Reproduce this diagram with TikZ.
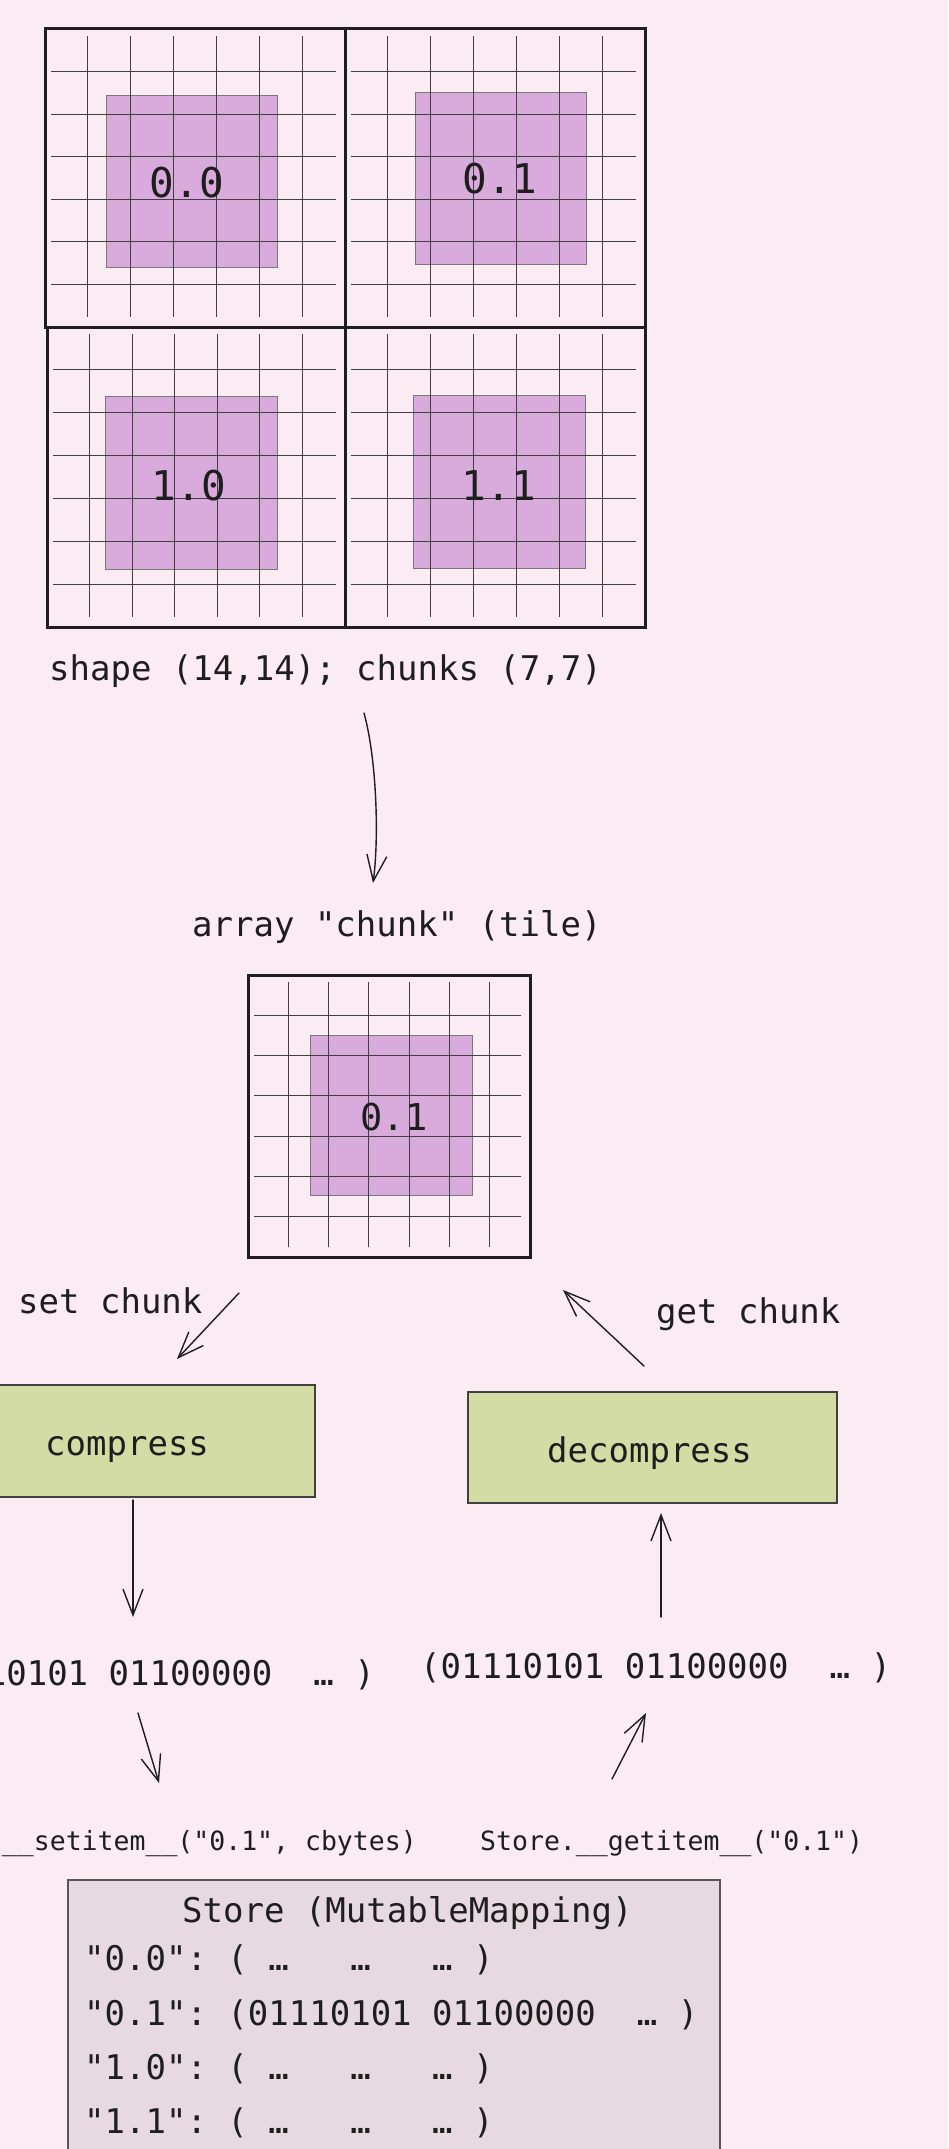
\documentclass[tikz,border=0pt]{standalone}
\usepackage{fontspec}
\newfontfamily\codefont{DejaVu Sans Mono}
\usetikzlibrary{arrows.meta}
\definecolor{bg}{HTML}{FBEBF2}
\definecolor{ink}{HTML}{1E1E1E}
\definecolor{violetfill}{HTML}{D9ABDD}
\definecolor{greenfill}{HTML}{D2DCA4}
\definecolor{storefill}{HTML}{E7D9E2}
\tikzset{
  frame/.style={draw=ink, line width=3pt, inner sep=0pt},
  gridline/.style={draw=ink!85, line width=1.2pt},
  chunkfill/.style={fill=violetfill, draw=ink!60, line width=1pt, inner sep=0pt},
  procbox/.style={fill=greenfill, draw=ink!85, line width=1.6pt, inner sep=0pt},
  storebox/.style={fill=storefill, draw=ink!75, line width=1.5pt, inner sep=0pt},
  code/.style={text=ink, inner sep=0pt, font=\codefont\fontsize{34}{40}\selectfont},
  codesmall/.style={text=ink, inner sep=0pt, font=\codefont\fontsize{26.5}{32}\selectfont},
  tilelabel/.style={text=ink, inner sep=0pt, font=\codefont\fontsize{41}{48}\selectfont},
  sketcharrow/.style={draw=ink, line width=1.4pt, line cap=round,
    -{Straight Barb[length=26pt,width=20pt,line width=1.4pt]}},
}
\newcommand{\chunkgrid}[4]{%
  \foreach \k in {1,...,6} {
    \draw[gridline] ({#1+\k*#3/7}, {#2+7}) -- ({#1+\k*#3/7}, {#2+#4-10});
    \draw[gridline] ({#1+6}, {#2+\k*#4/7}) -- ({#1+#3-9}, {#2+\k*#4/7});
  }%
}
\begin{document}
\begin{tikzpicture}[x=1pt,y=-1pt]
\useasboundingbox (0,0) rectangle (948,2149);
\clip (0,0) rectangle (948,2149);
\fill[bg] (0,0) rectangle (948,2149);

% ---- full array: four chunks ----
\node[chunkfill, minimum width=171pt, minimum height=172pt] (p00) at (191.5,181) {};
\node[chunkfill, minimum width=171pt, minimum height=172pt] (p01) at (500.5,178) {};
\node[chunkfill, minimum width=172pt, minimum height=173pt] (p10) at (191,482.5) {};
\node[chunkfill, minimum width=172pt, minimum height=173pt] (p11) at (499,481.5) {};
\chunkgrid{45}{29}{300}{298}
\chunkgrid{345}{29}{300}{298}
\chunkgrid{47}{327}{298}{300}
\chunkgrid{345}{327}{300}{300}
\node[frame, minimum width=300pt, minimum height=298pt] (q00) at (195,178) {};
\node[frame, minimum width=300pt, minimum height=298pt] (q01) at (495,178) {};
\node[frame, minimum width=298pt, minimum height=300pt] (q10) at (196,477) {};
\node[frame, minimum width=300pt, minimum height=300pt] (q11) at (495,477) {};
\node[tilelabel] (l00) at (187,183) {0.0};
\node[tilelabel] (l01) at (500,179) {0.1};
\node[tilelabel] (l10) at (189,486) {1.0};
\node[tilelabel] (l11) at (499,486) {1.1};

\node[code, anchor=base west] (shape) at (49,680) {shape (14,14); chunks (7,7)};

% ---- single chunk ----
\node[code, anchor=base west] (arraylbl) at (192,936) {array "chunk" (tile)};
\node[chunkfill, minimum width=162pt, minimum height=160pt] (pt) at (391,1115) {};
\chunkgrid{248}{975}{282}{282}
\node[frame, minimum width=282pt, minimum height=282pt] (tile) at (389,1116) {};
\node[text=ink, inner sep=0pt, font=\codefont\fontsize{37}{44}\selectfont] (lt) at (394,1117) {0.1};

\node[code, anchor=base west] (setlbl) at (18,1313) {set chunk};
\node[code, anchor=base west] (getlbl) at (656,1323) {get chunk};

% ---- codec boxes ----
\node[procbox, minimum width=325pt, minimum height=112pt] (compress) at (152.5,1441) {};
\node[code, anchor=base west] (compresslbl) at (45,1455) {compress};
\node[procbox, minimum width=369pt, minimum height=111pt] (decompress) at (652.5,1447.5) {};
\node[code, anchor=base west] (decompresslbl) at (547,1462) {decompress};

% ---- bytes ----
\node[code, anchor=base east] (bytesL) at (375,1685) {\frenchspacing(01110101 01100000~~…~)};
\node[code, anchor=base west] (bytesR) at (420,1678) {\frenchspacing(01110101 01100000~~…~)};

\node[codesmall, anchor=base east] (setitem) at (417,1850) {Store.\_\_setitem\_\_("0.1", cbytes)};
\node[codesmall, anchor=base west] (getitem) at (480,1850) {Store.\_\_getitem\_\_("0.1")};

% ---- store ----
\node[storebox, minimum width=652pt, minimum height=320pt] (store) at (394,2040) {};
\node[code, anchor=base west] (storetitle) at (182,1922) {Store (MutableMapping)};
\node[code, anchor=base west] (s00) at (84,1970) {\frenchspacing"0.0":~(~…~~~…~~~…~)};
\node[code, anchor=base west] (s01) at (84,2025) {\frenchspacing"0.1":~(01110101 01100000~~…~)};
\node[code, anchor=base west] (s10) at (84,2079) {\frenchspacing"1.0":~(~…~~~…~~~…~)};
\node[code, anchor=base west] (s11) at (84,2133) {\frenchspacing"1.1":~(~…~~~…~~~…~)};

% ---- connectors ----
\coordinate (a1s) at (364,713);
\coordinate (a1e) at (373,883);
\coordinate (a2s) at (239,1293);
\coordinate (a2e) at (177,1359);
\coordinate (a3s) at (644,1366);
\coordinate (a3e) at (563,1290);
\coordinate (a4s) at (133,1500);
\coordinate (a4e) at (133,1617);
\coordinate (a5s) at (138,1713);
\coordinate (a5e) at (159,1783);
\coordinate (a6s) at (612,1779);
\coordinate (a6e) at (646,1713);
\coordinate (a7s) at (661,1617);
\coordinate (a7e) at (661,1513);
\draw[sketcharrow] (a1s) .. controls (377,760) and (379,840) .. (a1e);
\draw[sketcharrow] (a2s) -- (a2e);
\draw[sketcharrow] (a3s) -- (a3e);
\draw[sketcharrow] (a4s) -- (a4e);
\draw[sketcharrow] (a5s) -- (a5e);
\draw[sketcharrow] (a6s) -- (a6e);
\draw[sketcharrow] (a7s) -- (a7e);
\end{tikzpicture}
\end{document}
